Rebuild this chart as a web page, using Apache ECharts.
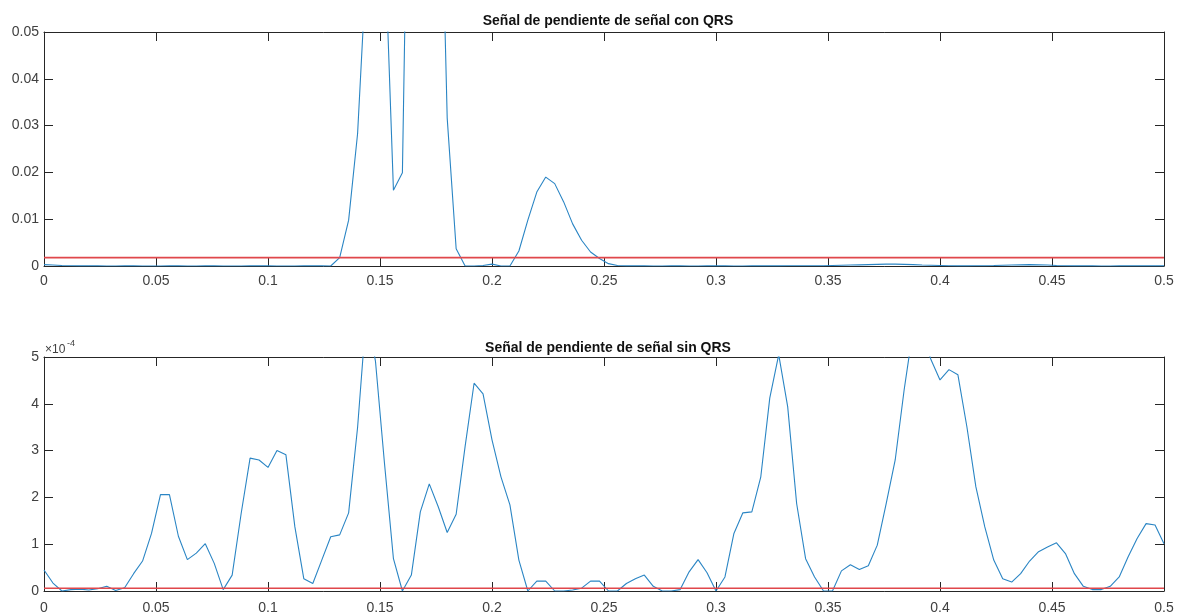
<!DOCTYPE html>
<html>
<head>
<meta charset="utf-8">
<script src="https://cdn.jsdelivr.net/npm/echarts@6/dist/echarts.min.js"></script>
<style>
  html, body { margin: 0; padding: 0; background: #fff; }
  #chart { width: 1180px; height: 616px; }
</style>
</head>
<body>
<div id="chart"></div>
<script>
// Sampling step of the slope signal (s)
const DT = 0.004;

// Slope signal with QRS (top panel)
const conQrs = [
  0.0003, 0.0002, 0.0001, 0.00005, 0.00003, 0.00002, 0.00002, 0.00001, 0.00001, 0.00002,
  0.00002, 0.00001, 0.00001, 0.00001, 0.00002, 0.00002, 0.00001, 0.00001, 0.00002, 0.00002,
  0.00001, 0.00001, 0.00001, 0.00002, 0.00002, 0.00002, 0.00001, 0.00001, 0.00001, 0.00002,
  0.00003, 0.00002, 0.0000, 0.0018, 0.0098, 0.0283, 0.065, 0.090, 0.071, 0.0162,
  0.0199, 0.136, 0.22, 0.20, 0.11, 0.0316, 0.0037, 0.0000, 0.0000, 0.0001,
  0.0004, 0.0000, 0.0000, 0.0032, 0.0098, 0.0158, 0.0190, 0.0176, 0.0137, 0.0090,
  0.0055, 0.0030, 0.0016, 0.0005, 0.0001, 0.00003, 0.00002, 0.00002, 0.00001, 0.00001,
  0.00002, 0.00002, 0.00001, 0.00001, 0.00002, 0.00003, 0.00002, 0.00001, 0.00001, 0.00002,
  0.00002, 0.00003, 0.00003, 0.00004, 0.00004, 0.00005, 0.00005, 0.00006, 0.0001, 0.00015,
  0.0002, 0.00025, 0.0003, 0.00035, 0.0004, 0.0004, 0.00035, 0.0003, 0.0002, 0.00015,
  0.0001, 0.00005, 0.00003, 0.00003, 0.00004, 0.00006, 0.0001, 0.00015, 0.0002, 0.00025,
  0.0003, 0.00025, 0.0002, 0.0001, 0.00005, 0.00003, 0.00002, 0.00002, 0.00001, 0.00001,
  0.00002, 0.00002, 0.00003, 0.00003, 0.00002, 0.00002
];
const umbralCon = 0.0018;

// Slope signal without QRS (bottom panel), in units of 1e-4
const sinQrs = [
  0.45, 0.17, 0.00, 0.03, 0.04, 0.02, 0.05, 0.10, 0.01, 0.07,
  0.37, 0.64, 1.23, 2.06, 2.06, 1.17, 0.67, 0.81, 1.01, 0.59,
  0.03, 0.34, 1.65, 2.84, 2.80, 2.64, 3.00, 2.91, 1.37, 0.26,
  0.16, 0.66, 1.16, 1.20, 1.67, 3.50, 6.00, 4.90, 2.73, 0.69,
  0.00, 0.34, 1.69, 2.29, 1.80, 1.25, 1.64, 3.09, 4.44, 4.21,
  3.23, 2.44, 1.84, 0.66, 0.00, 0.21, 0.21, 0.00, 0.00, 0.02,
  0.06, 0.21, 0.21, 0.00, 0.00, 0.16, 0.26, 0.34, 0.10, 0.00,
  0.00, 0.03, 0.41, 0.67, 0.39, 0.00, 0.30, 1.23, 1.67, 1.69,
  2.44, 4.12, 5.05, 3.94, 1.87, 0.69, 0.30, 0.00, 0.00, 0.43,
  0.56, 0.46, 0.54, 0.98, 1.87, 2.80, 4.30, 5.60, 5.50, 4.94,
  4.51, 4.73, 4.62, 3.51, 2.23, 1.37, 0.66, 0.26, 0.19, 0.37,
  0.64, 0.84, 0.94, 1.03, 0.80, 0.37, 0.10, 0.03, 0.03, 0.10,
  0.30, 0.73, 1.12, 1.44, 1.41, 1.01
];
const umbralSin = 0.06;

// Tick settings
const xTicks = { min: 0, max: 0.5, interval: 0.05 };
const yTopTicks = { min: 0, max: 0.05, interval: 0.01 };
const yBotTicks = { min: 0, max: 5, interval: 1 };

const titles = ['Señal de pendiente de señal con QRS', 'Señal de pendiente de señal sin QRS'];

const FONT = '"Liberation Sans", Arial, Helvetica, sans-serif';
const AXIS_COLOR = '#262626';
const LABEL_COLOR = '#404040';
const BLUE = '#2a85c4';
const RED = '#e0474b';

const pairs = arr => arr.map((v, i) => [+(i * DT).toFixed(3), v]);

function xAxisPair(gridIndex, margin) {
  const base = {
    type: 'value', gridIndex, ...xTicks,
    axisLine: { show: true, onZero: false, lineStyle: { color: AXIS_COLOR, width: 1 } },
    axisTick: { show: true, inside: true, length: 9, lineStyle: { color: AXIS_COLOR } },
    splitLine: { show: false }
  };
  return [
    { ...base, position: 'bottom',
      axisLabel: { show: true, margin, color: LABEL_COLOR, fontSize: 14, fontFamily: FONT } },
    { ...base, position: 'top', axisLabel: { show: false } }
  ];
}

function yAxisPair(gridIndex, ticks) {
  const base = {
    type: 'value', gridIndex, ...ticks,
    axisLine: { show: true, onZero: false, lineStyle: { color: AXIS_COLOR, width: 1 } },
    axisTick: { show: true, inside: true, length: 9, lineStyle: { color: AXIS_COLOR } },
    splitLine: { show: false }
  };
  return [
    { ...base, position: 'left',
      axisLabel: { show: true, margin: 5, color: LABEL_COLOR, fontSize: 14, fontFamily: FONT } },
    { ...base, position: 'right', axisLabel: { show: false } }
  ];
}

function signalSeries(idx, data) {
  return {
    type: 'line',
    xAxisIndex: idx * 2,
    yAxisIndex: idx * 2,
    data: pairs(data),
    showSymbol: false,
    clip: true,
    z: 2,
    lineStyle: { color: BLUE, width: 1.1 },
    itemStyle: { color: BLUE }
  };
}

// Horizontal threshold across the full time span
function thresholdSeries(idx, thr) {
  return {
    type: 'line',
    xAxisIndex: idx * 2,
    yAxisIndex: idx * 2,
    data: [[xTicks.min, thr], [xTicks.max, thr]],
    showSymbol: false,
    clip: true,
    z: 3,
    lineStyle: { color: RED, width: 1.6 },
    itemStyle: { color: RED }
  };
}

const chart = echarts.init(document.getElementById('chart'), null, { renderer: 'canvas' });
chart.setOption({
  animation: false,
  backgroundColor: '#ffffff',
  title: [
    { text: titles[0], left: 603, top: 9, textAlign: 'center',
      textStyle: { fontSize: 14, fontWeight: 'bold', color: '#111', fontFamily: FONT } },
    { text: titles[1], left: 603, top: 336, textAlign: 'center',
      textStyle: { fontSize: 14, fontWeight: 'bold', color: '#111', fontFamily: FONT } }
  ],
  grid: [
    { left: 44, right: 16, top: 32, height: 234, containLabel: false },
    { left: 44, right: 16, top: 357, height: 234, containLabel: false }
  ],
  xAxis: [...xAxisPair(0, 8), ...xAxisPair(1, 10)],
  yAxis: [...yAxisPair(0, yTopTicks), ...yAxisPair(1, yBotTicks)],
  series: [
    signalSeries(0, conQrs),
    thresholdSeries(0, umbralCon),
    signalSeries(1, sinQrs),
    thresholdSeries(1, umbralSin)
  ],
  graphic: [
    { type: 'text', left: 45, top: 344,
      style: { text: '×10', fill: LABEL_COLOR, font: '12px ' + FONT } },
    { type: 'text', left: 67, top: 339,
      style: { text: '-4', fill: LABEL_COLOR, font: '9px ' + FONT } }
  ]
});
</script>
</body>
</html>
